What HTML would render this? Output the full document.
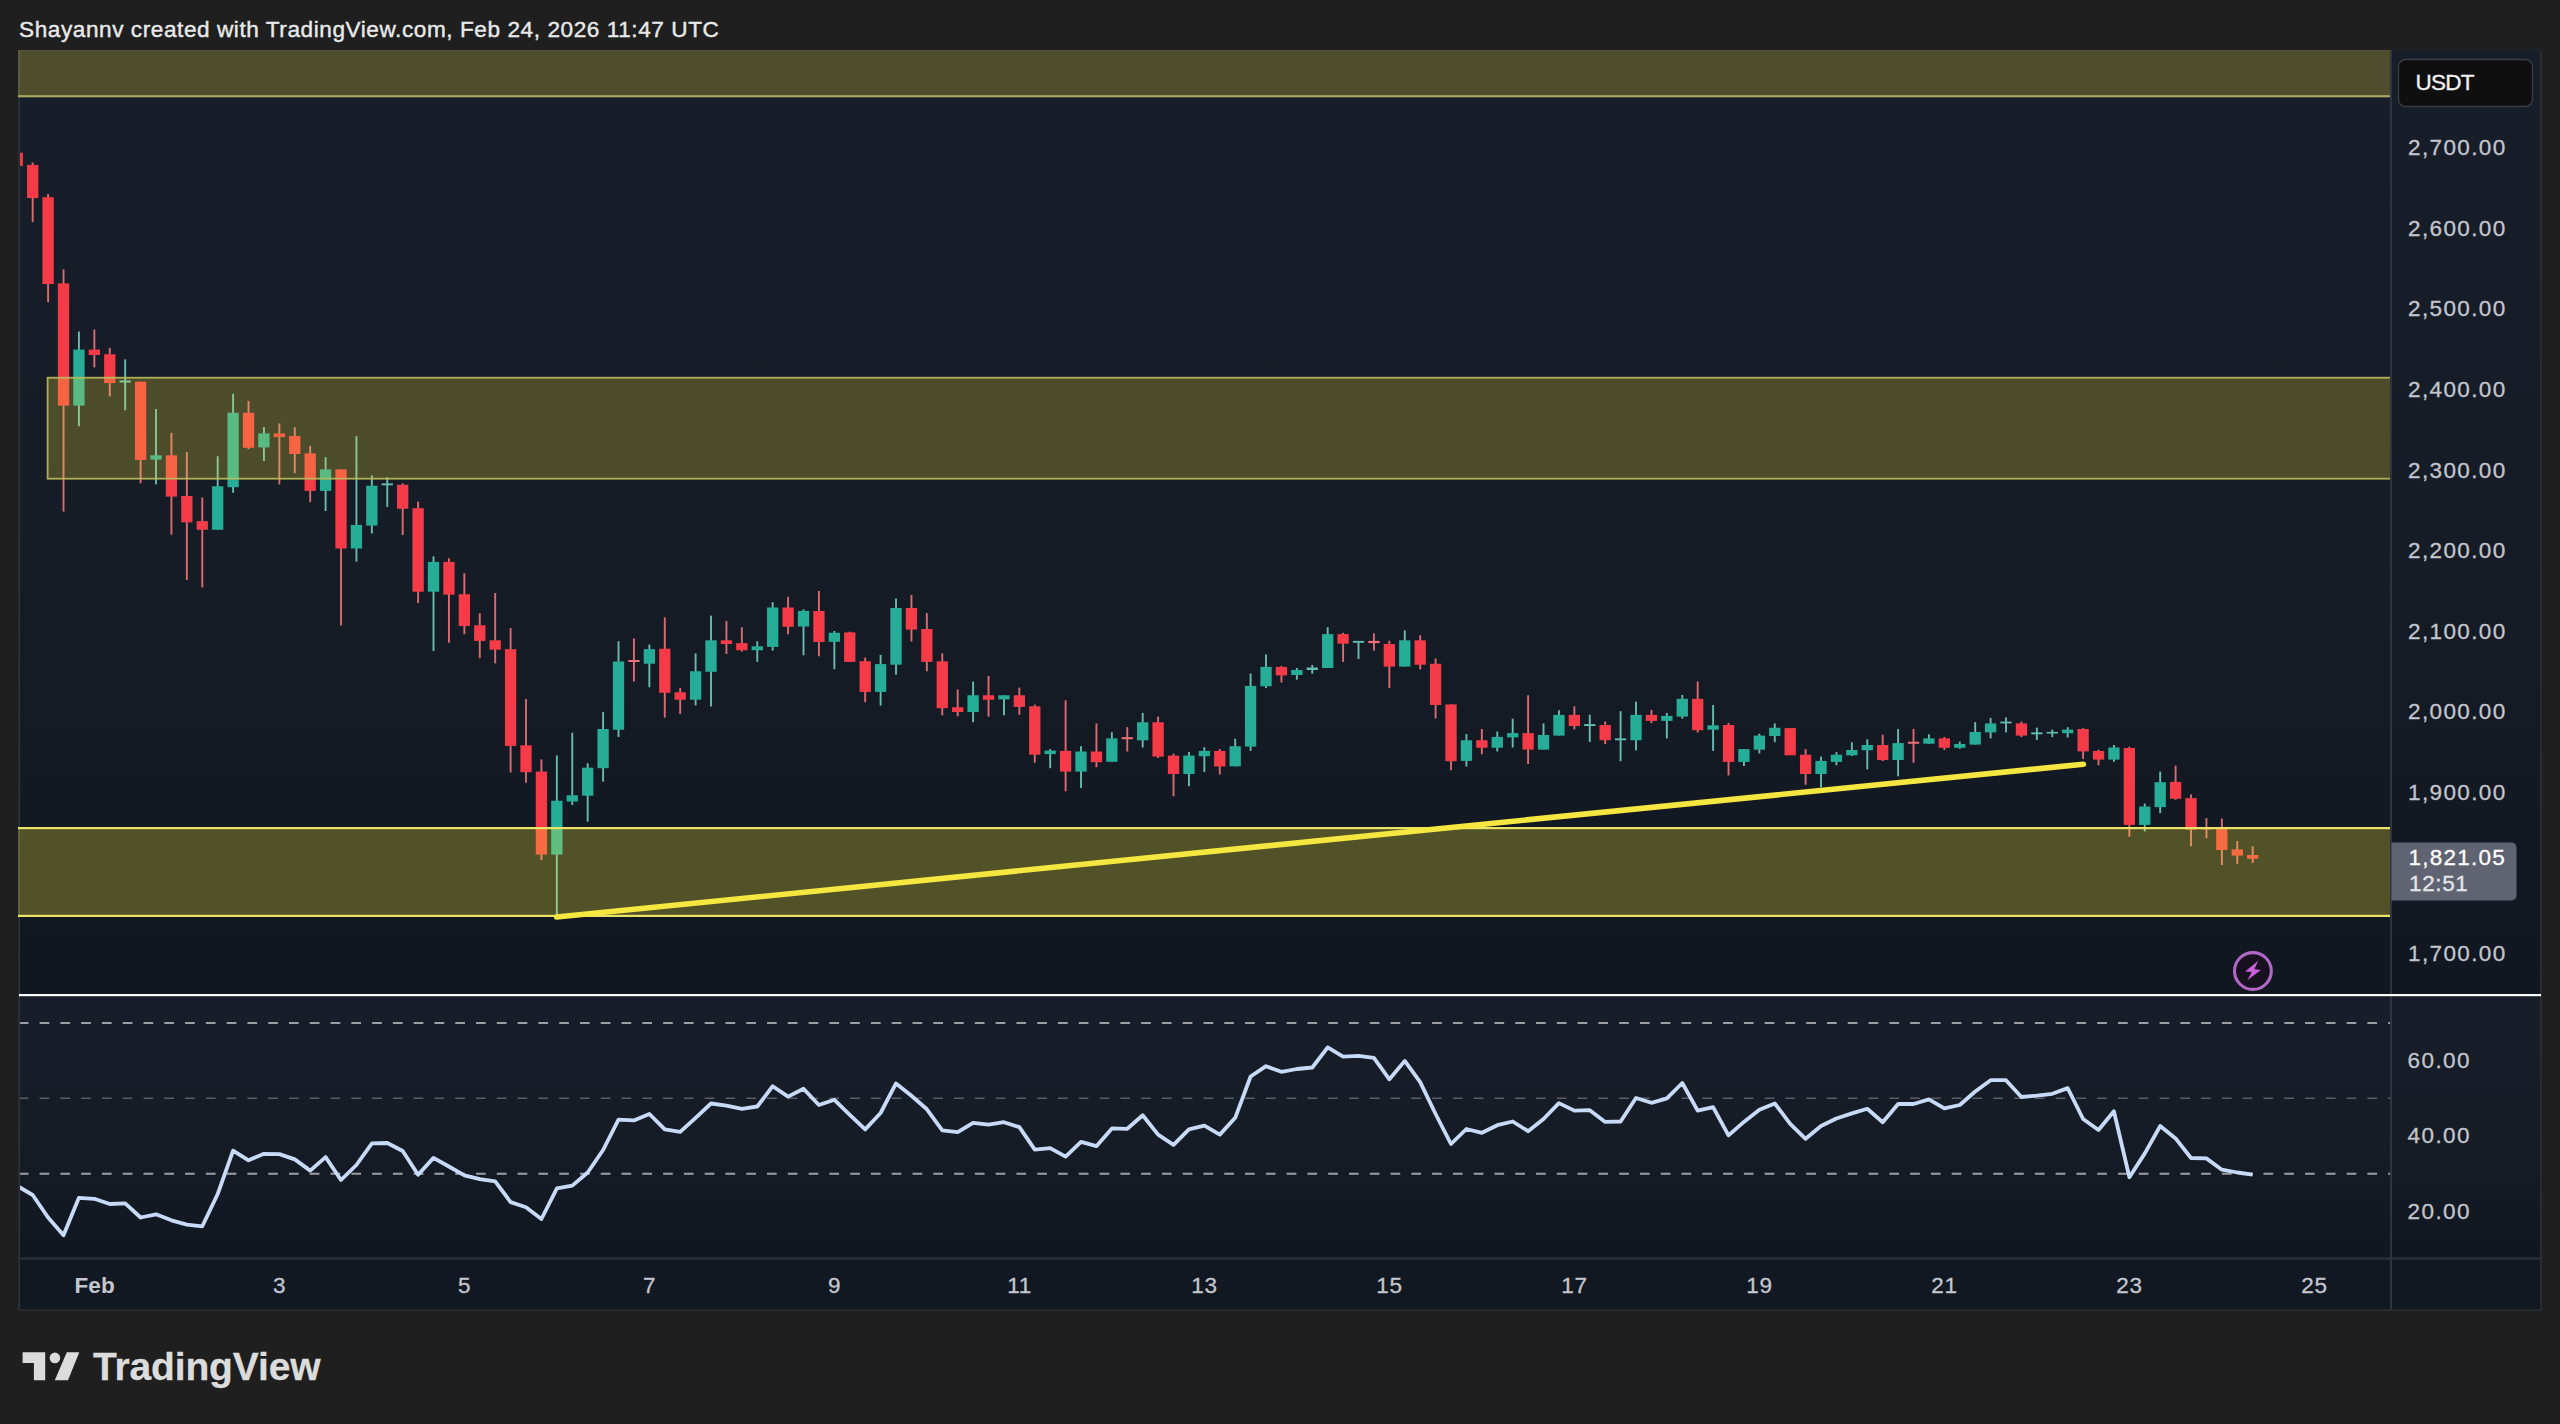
<!DOCTYPE html>
<html><head><meta charset="utf-8"><title>ETHUSDT chart</title>
<style>
html,body{margin:0;padding:0;background:#1f1f1f;}
body{width:2560px;height:1424px;position:relative;overflow:hidden;font-family:"Liberation Sans",sans-serif;}
svg{position:absolute;left:0;top:0;}
.t{position:absolute;white-space:nowrap;font-size:22.5px;line-height:22px;color:#c3c6ce;-webkit-text-stroke:0.3px currentColor;}
.hdr{left:19px;top:18.9px;font-size:22.6px;color:#e9e9e9;letter-spacing:0.563px;-webkit-text-stroke:0.4px currentColor;}
.pl{left:2408px;letter-spacing:1.373px;}
.tl{letter-spacing:0.764px;transform:translateX(-50%);top:1275px;}
.logo{left:93px;top:1346.5px;font-size:39px;line-height:39px;font-weight:bold;color:#dcdcdc;letter-spacing:-0.15px;}
</style></head><body>
<svg width="2560" height="1424" viewBox="0 0 2560 1424">
<defs>
<linearGradient id="bg" x1="0" y1="0" x2="0" y2="1"><stop offset="0" stop-color="#181e29"/><stop offset="0.55" stop-color="#161c26"/><stop offset="1" stop-color="#111720"/></linearGradient>
<clipPath id="cp"><rect x="19.5" y="50" width="2371.5" height="944"/></clipPath>
<clipPath id="cr"><rect x="19.5" y="996" width="2372" height="262"/></clipPath>
</defs>
<rect x="18.4" y="50" width="2523" height="945" fill="url(#bg)"/>
<rect x="18.4" y="995" width="2523" height="264" fill="url(#bg)"/>
<rect x="18.4" y="1258" width="2523" height="52.5" fill="#121821"/>

<g clip-path="url(#cp)">
<rect x="11.62" y="152.75" width="11.3" height="13.15" fill="#f53b47"/>
<rect x="31.73" y="162.50" width="1.9" height="59.60" fill="#dd6a70"/>
<rect x="27.03" y="164.90" width="11.3" height="33.20" fill="#f53b47"/>
<rect x="47.15" y="194.00" width="1.9" height="108.20" fill="#dd6a70"/>
<rect x="42.45" y="197.20" width="11.3" height="86.80" fill="#f53b47"/>
<rect x="62.57" y="269.40" width="1.9" height="242.20" fill="#dd6a70"/>
<rect x="57.87" y="283.40" width="11.3" height="122.20" fill="#f53b47"/>
<rect x="77.98" y="331.60" width="1.9" height="94.70" fill="#68bbae"/>
<rect x="73.28" y="349.60" width="11.3" height="56.00" fill="#26ad97"/>
<rect x="93.40" y="329.40" width="1.9" height="38.00" fill="#dd6a70"/>
<rect x="88.70" y="349.60" width="11.3" height="5.40" fill="#f53b47"/>
<rect x="108.82" y="347.80" width="1.9" height="48.60" fill="#dd6a70"/>
<rect x="104.12" y="354.30" width="11.3" height="28.80" fill="#f53b47"/>
<rect x="124.23" y="359.40" width="1.9" height="50.90" fill="#68bbae"/>
<rect x="119.53" y="380.50" width="11.3" height="2.00" fill="#62bfb1"/>
<rect x="139.65" y="381.70" width="1.9" height="101.70" fill="#dd6a70"/>
<rect x="134.95" y="381.70" width="11.3" height="78.30" fill="#f53b47"/>
<rect x="155.07" y="409.00" width="1.9" height="75.40" fill="#68bbae"/>
<rect x="150.37" y="455.30" width="11.3" height="4.30" fill="#26ad97"/>
<rect x="170.48" y="432.80" width="1.9" height="101.80" fill="#dd6a70"/>
<rect x="165.78" y="455.30" width="11.3" height="41.30" fill="#f53b47"/>
<rect x="185.90" y="452.10" width="1.9" height="127.90" fill="#dd6a70"/>
<rect x="181.20" y="496.00" width="11.3" height="26.30" fill="#f53b47"/>
<rect x="201.32" y="497.50" width="1.9" height="90.00" fill="#dd6a70"/>
<rect x="196.62" y="521.10" width="11.3" height="8.65" fill="#f53b47"/>
<rect x="216.73" y="456.25" width="1.9" height="73.50" fill="#68bbae"/>
<rect x="212.03" y="486.25" width="11.3" height="43.50" fill="#26ad97"/>
<rect x="232.15" y="393.80" width="1.9" height="99.00" fill="#68bbae"/>
<rect x="227.45" y="412.75" width="11.3" height="74.45" fill="#26ad97"/>
<rect x="247.57" y="400.90" width="1.9" height="48.20" fill="#dd6a70"/>
<rect x="242.87" y="412.75" width="11.3" height="35.05" fill="#f53b47"/>
<rect x="262.98" y="427.20" width="1.9" height="33.70" fill="#68bbae"/>
<rect x="258.28" y="433.40" width="11.3" height="14.00" fill="#26ad97"/>
<rect x="278.40" y="423.40" width="1.9" height="61.00" fill="#dd6a70"/>
<rect x="273.70" y="433.40" width="11.3" height="3.70" fill="#f53b47"/>
<rect x="293.82" y="427.20" width="1.9" height="45.90" fill="#dd6a70"/>
<rect x="289.12" y="436.00" width="11.3" height="18.00" fill="#f53b47"/>
<rect x="309.23" y="445.90" width="1.9" height="56.30" fill="#dd6a70"/>
<rect x="304.53" y="453.40" width="11.3" height="37.50" fill="#f53b47"/>
<rect x="324.65" y="457.20" width="1.9" height="53.80" fill="#68bbae"/>
<rect x="319.95" y="469.40" width="11.3" height="21.50" fill="#26ad97"/>
<rect x="340.07" y="469.40" width="1.9" height="156.00" fill="#dd6a70"/>
<rect x="335.37" y="469.40" width="11.3" height="79.10" fill="#f53b47"/>
<rect x="355.48" y="436.20" width="1.9" height="125.40" fill="#68bbae"/>
<rect x="350.78" y="524.90" width="11.3" height="23.60" fill="#26ad97"/>
<rect x="370.90" y="475.40" width="1.9" height="58.10" fill="#68bbae"/>
<rect x="366.20" y="485.70" width="11.3" height="39.90" fill="#26ad97"/>
<rect x="386.32" y="477.25" width="1.9" height="29.65" fill="#68bbae"/>
<rect x="381.62" y="483.40" width="11.3" height="1.90" fill="#62bfb1"/>
<rect x="401.73" y="483.40" width="1.9" height="51.60" fill="#dd6a70"/>
<rect x="397.03" y="484.75" width="11.3" height="24.00" fill="#f53b47"/>
<rect x="417.15" y="501.60" width="1.9" height="101.40" fill="#dd6a70"/>
<rect x="412.45" y="508.20" width="11.3" height="83.50" fill="#f53b47"/>
<rect x="432.57" y="556.30" width="1.9" height="94.70" fill="#68bbae"/>
<rect x="427.87" y="561.90" width="11.3" height="29.80" fill="#26ad97"/>
<rect x="447.98" y="558.30" width="1.9" height="84.45" fill="#dd6a70"/>
<rect x="443.28" y="561.90" width="11.3" height="32.70" fill="#f53b47"/>
<rect x="463.40" y="573.20" width="1.9" height="61.00" fill="#dd6a70"/>
<rect x="458.70" y="594.20" width="11.3" height="31.80" fill="#f53b47"/>
<rect x="478.82" y="613.10" width="1.9" height="45.00" fill="#dd6a70"/>
<rect x="474.12" y="625.30" width="11.3" height="15.60" fill="#f53b47"/>
<rect x="494.23" y="593.00" width="1.9" height="70.40" fill="#dd6a70"/>
<rect x="489.53" y="640.30" width="11.3" height="9.40" fill="#f53b47"/>
<rect x="509.65" y="628.10" width="1.9" height="144.30" fill="#dd6a70"/>
<rect x="504.95" y="649.10" width="11.3" height="96.80" fill="#f53b47"/>
<rect x="525.07" y="699.00" width="1.9" height="83.70" fill="#dd6a70"/>
<rect x="520.37" y="745.30" width="11.3" height="26.90" fill="#f53b47"/>
<rect x="540.48" y="759.40" width="1.9" height="100.80" fill="#dd6a70"/>
<rect x="535.78" y="771.60" width="11.3" height="83.00" fill="#f53b47"/>
<rect x="555.90" y="755.50" width="1.9" height="161.70" fill="#68bbae"/>
<rect x="551.20" y="800.75" width="11.3" height="53.85" fill="#26ad97"/>
<rect x="571.32" y="732.75" width="1.9" height="72.25" fill="#68bbae"/>
<rect x="566.62" y="795.30" width="11.3" height="6.20" fill="#26ad97"/>
<rect x="586.73" y="763.20" width="1.9" height="58.40" fill="#68bbae"/>
<rect x="582.03" y="767.70" width="11.3" height="28.00" fill="#26ad97"/>
<rect x="602.15" y="712.10" width="1.9" height="69.50" fill="#68bbae"/>
<rect x="597.45" y="729.00" width="11.3" height="39.20" fill="#26ad97"/>
<rect x="617.57" y="641.25" width="1.9" height="95.65" fill="#68bbae"/>
<rect x="612.87" y="661.50" width="11.3" height="68.25" fill="#26ad97"/>
<rect x="632.98" y="638.40" width="1.9" height="43.20" fill="#dd6a70"/>
<rect x="628.28" y="660.00" width="11.3" height="2.00" fill="#ee6f77"/>
<rect x="648.40" y="644.60" width="1.9" height="42.60" fill="#68bbae"/>
<rect x="643.70" y="649.10" width="11.3" height="14.65" fill="#26ad97"/>
<rect x="663.82" y="617.40" width="1.9" height="100.20" fill="#dd6a70"/>
<rect x="659.12" y="648.75" width="11.3" height="44.05" fill="#f53b47"/>
<rect x="679.23" y="688.10" width="1.9" height="25.90" fill="#dd6a70"/>
<rect x="674.53" y="692.25" width="11.3" height="7.50" fill="#f53b47"/>
<rect x="694.65" y="653.40" width="1.9" height="52.00" fill="#68bbae"/>
<rect x="689.95" y="671.25" width="11.3" height="28.50" fill="#26ad97"/>
<rect x="710.07" y="615.60" width="1.9" height="90.90" fill="#68bbae"/>
<rect x="705.37" y="640.30" width="11.3" height="31.50" fill="#26ad97"/>
<rect x="725.48" y="621.00" width="1.9" height="33.00" fill="#dd6a70"/>
<rect x="720.78" y="640.30" width="11.3" height="3.70" fill="#f53b47"/>
<rect x="740.90" y="627.20" width="1.9" height="24.40" fill="#dd6a70"/>
<rect x="736.20" y="643.10" width="11.3" height="7.15" fill="#f53b47"/>
<rect x="756.32" y="641.25" width="1.9" height="20.65" fill="#68bbae"/>
<rect x="751.62" y="646.30" width="11.3" height="3.95" fill="#26ad97"/>
<rect x="771.73" y="602.25" width="1.9" height="48.35" fill="#68bbae"/>
<rect x="767.03" y="607.50" width="11.3" height="39.40" fill="#26ad97"/>
<rect x="787.15" y="596.80" width="1.9" height="37.50" fill="#dd6a70"/>
<rect x="782.45" y="607.50" width="11.3" height="19.30" fill="#f53b47"/>
<rect x="802.57" y="609.40" width="1.9" height="45.90" fill="#68bbae"/>
<rect x="797.87" y="610.90" width="11.3" height="15.60" fill="#26ad97"/>
<rect x="817.98" y="591.00" width="1.9" height="65.25" fill="#dd6a70"/>
<rect x="813.28" y="611.00" width="11.3" height="31.00" fill="#f53b47"/>
<rect x="833.40" y="631.00" width="1.9" height="38.20" fill="#68bbae"/>
<rect x="828.70" y="632.80" width="11.3" height="9.00" fill="#26ad97"/>
<rect x="848.82" y="631.70" width="1.9" height="30.20" fill="#dd6a70"/>
<rect x="844.12" y="632.40" width="11.3" height="29.50" fill="#f53b47"/>
<rect x="864.24" y="657.60" width="1.9" height="44.60" fill="#dd6a70"/>
<rect x="859.54" y="661.20" width="11.3" height="30.70" fill="#f53b47"/>
<rect x="879.65" y="654.90" width="1.9" height="50.70" fill="#68bbae"/>
<rect x="874.95" y="664.10" width="11.3" height="27.80" fill="#26ad97"/>
<rect x="895.07" y="598.50" width="1.9" height="76.10" fill="#68bbae"/>
<rect x="890.37" y="608.00" width="11.3" height="56.70" fill="#26ad97"/>
<rect x="910.49" y="594.90" width="1.9" height="46.70" fill="#dd6a70"/>
<rect x="905.79" y="608.00" width="11.3" height="21.60" fill="#f53b47"/>
<rect x="925.90" y="613.10" width="1.9" height="58.15" fill="#dd6a70"/>
<rect x="921.20" y="629.00" width="11.3" height="32.90" fill="#f53b47"/>
<rect x="941.32" y="653.40" width="1.9" height="61.90" fill="#dd6a70"/>
<rect x="936.62" y="661.30" width="11.3" height="46.90" fill="#f53b47"/>
<rect x="956.74" y="689.40" width="1.9" height="26.85" fill="#dd6a70"/>
<rect x="952.04" y="707.25" width="11.3" height="4.75" fill="#f53b47"/>
<rect x="972.15" y="681.60" width="1.9" height="40.65" fill="#68bbae"/>
<rect x="967.45" y="695.25" width="11.3" height="16.75" fill="#26ad97"/>
<rect x="987.57" y="675.90" width="1.9" height="40.70" fill="#dd6a70"/>
<rect x="982.87" y="695.25" width="11.3" height="4.50" fill="#f53b47"/>
<rect x="1002.99" y="695.25" width="1.9" height="20.05" fill="#68bbae"/>
<rect x="998.29" y="695.25" width="11.3" height="4.15" fill="#26ad97"/>
<rect x="1018.40" y="687.60" width="1.9" height="27.15" fill="#dd6a70"/>
<rect x="1013.70" y="695.25" width="11.3" height="11.65" fill="#f53b47"/>
<rect x="1033.82" y="704.60" width="1.9" height="58.15" fill="#dd6a70"/>
<rect x="1029.12" y="706.30" width="11.3" height="48.40" fill="#f53b47"/>
<rect x="1049.24" y="749.00" width="1.9" height="19.20" fill="#68bbae"/>
<rect x="1044.54" y="750.60" width="11.3" height="3.50" fill="#26ad97"/>
<rect x="1064.65" y="700.30" width="1.9" height="90.95" fill="#dd6a70"/>
<rect x="1059.95" y="750.90" width="11.3" height="20.70" fill="#f53b47"/>
<rect x="1080.07" y="746.25" width="1.9" height="41.65" fill="#68bbae"/>
<rect x="1075.37" y="751.50" width="11.3" height="20.10" fill="#26ad97"/>
<rect x="1095.49" y="723.40" width="1.9" height="43.85" fill="#dd6a70"/>
<rect x="1090.79" y="751.50" width="11.3" height="10.70" fill="#f53b47"/>
<rect x="1110.90" y="732.20" width="1.9" height="29.60" fill="#68bbae"/>
<rect x="1106.20" y="738.40" width="11.3" height="23.40" fill="#26ad97"/>
<rect x="1126.32" y="727.10" width="1.9" height="24.40" fill="#dd6a70"/>
<rect x="1121.62" y="737.20" width="11.3" height="2.00" fill="#ee6f77"/>
<rect x="1141.74" y="712.90" width="1.9" height="34.70" fill="#68bbae"/>
<rect x="1137.04" y="722.25" width="11.3" height="18.00" fill="#26ad97"/>
<rect x="1157.15" y="716.60" width="1.9" height="41.40" fill="#dd6a70"/>
<rect x="1152.45" y="722.25" width="11.3" height="34.35" fill="#f53b47"/>
<rect x="1172.57" y="753.75" width="1.9" height="42.55" fill="#dd6a70"/>
<rect x="1167.87" y="755.60" width="11.3" height="18.40" fill="#f53b47"/>
<rect x="1187.99" y="751.90" width="1.9" height="34.30" fill="#68bbae"/>
<rect x="1183.29" y="755.60" width="11.3" height="18.40" fill="#26ad97"/>
<rect x="1203.40" y="747.20" width="1.9" height="24.90" fill="#68bbae"/>
<rect x="1198.70" y="750.90" width="11.3" height="5.30" fill="#26ad97"/>
<rect x="1218.82" y="749.00" width="1.9" height="25.40" fill="#dd6a70"/>
<rect x="1214.12" y="750.90" width="11.3" height="15.60" fill="#f53b47"/>
<rect x="1234.24" y="738.75" width="1.9" height="27.55" fill="#68bbae"/>
<rect x="1229.54" y="746.25" width="11.3" height="20.05" fill="#26ad97"/>
<rect x="1249.65" y="673.50" width="1.9" height="77.40" fill="#68bbae"/>
<rect x="1244.95" y="685.90" width="11.3" height="60.70" fill="#26ad97"/>
<rect x="1265.07" y="654.40" width="1.9" height="33.70" fill="#68bbae"/>
<rect x="1260.37" y="666.90" width="11.3" height="19.35" fill="#26ad97"/>
<rect x="1280.49" y="666.00" width="1.9" height="16.50" fill="#dd6a70"/>
<rect x="1275.79" y="666.90" width="11.3" height="8.50" fill="#f53b47"/>
<rect x="1295.90" y="667.90" width="1.9" height="11.80" fill="#68bbae"/>
<rect x="1291.20" y="670.00" width="11.3" height="5.00" fill="#26ad97"/>
<rect x="1311.32" y="665.00" width="1.9" height="8.70" fill="#68bbae"/>
<rect x="1306.62" y="667.50" width="11.3" height="2.50" fill="#62bfb1"/>
<rect x="1326.74" y="627.20" width="1.9" height="40.80" fill="#68bbae"/>
<rect x="1322.04" y="634.10" width="11.3" height="33.90" fill="#26ad97"/>
<rect x="1342.15" y="632.80" width="1.9" height="29.10" fill="#dd6a70"/>
<rect x="1337.45" y="634.10" width="11.3" height="9.60" fill="#f53b47"/>
<rect x="1357.57" y="640.90" width="1.9" height="18.10" fill="#68bbae"/>
<rect x="1352.87" y="640.90" width="11.3" height="1.85" fill="#62bfb1"/>
<rect x="1372.99" y="633.40" width="1.9" height="17.20" fill="#dd6a70"/>
<rect x="1368.29" y="640.90" width="11.3" height="2.20" fill="#ee6f77"/>
<rect x="1388.40" y="640.70" width="1.9" height="47.40" fill="#dd6a70"/>
<rect x="1383.70" y="644.00" width="11.3" height="22.60" fill="#f53b47"/>
<rect x="1403.82" y="630.40" width="1.9" height="36.20" fill="#68bbae"/>
<rect x="1399.12" y="640.30" width="11.3" height="26.30" fill="#26ad97"/>
<rect x="1419.24" y="635.25" width="1.9" height="34.15" fill="#dd6a70"/>
<rect x="1414.54" y="640.30" width="11.3" height="24.40" fill="#f53b47"/>
<rect x="1434.65" y="658.50" width="1.9" height="60.00" fill="#dd6a70"/>
<rect x="1429.95" y="663.75" width="11.3" height="41.25" fill="#f53b47"/>
<rect x="1450.07" y="704.40" width="1.9" height="65.85" fill="#dd6a70"/>
<rect x="1445.37" y="704.40" width="11.3" height="56.85" fill="#f53b47"/>
<rect x="1465.49" y="734.10" width="1.9" height="32.40" fill="#68bbae"/>
<rect x="1460.79" y="740.25" width="11.3" height="20.65" fill="#26ad97"/>
<rect x="1480.90" y="729.00" width="1.9" height="25.30" fill="#dd6a70"/>
<rect x="1476.20" y="740.25" width="11.3" height="7.50" fill="#f53b47"/>
<rect x="1496.32" y="731.60" width="1.9" height="19.90" fill="#68bbae"/>
<rect x="1491.62" y="736.90" width="11.3" height="10.85" fill="#26ad97"/>
<rect x="1511.74" y="718.70" width="1.9" height="28.90" fill="#68bbae"/>
<rect x="1507.04" y="733.10" width="11.3" height="4.30" fill="#26ad97"/>
<rect x="1527.15" y="695.25" width="1.9" height="68.75" fill="#dd6a70"/>
<rect x="1522.45" y="733.10" width="11.3" height="16.50" fill="#f53b47"/>
<rect x="1542.57" y="723.40" width="1.9" height="26.20" fill="#68bbae"/>
<rect x="1537.87" y="735.00" width="11.3" height="14.60" fill="#26ad97"/>
<rect x="1557.99" y="710.25" width="1.9" height="25.35" fill="#68bbae"/>
<rect x="1553.29" y="714.90" width="11.3" height="20.70" fill="#26ad97"/>
<rect x="1573.40" y="706.30" width="1.9" height="23.10" fill="#dd6a70"/>
<rect x="1568.70" y="714.90" width="11.3" height="11.10" fill="#f53b47"/>
<rect x="1588.82" y="714.75" width="1.9" height="27.15" fill="#68bbae"/>
<rect x="1584.12" y="724.10" width="11.3" height="1.90" fill="#62bfb1"/>
<rect x="1604.24" y="721.50" width="1.9" height="22.50" fill="#dd6a70"/>
<rect x="1599.54" y="725.00" width="11.3" height="15.25" fill="#f53b47"/>
<rect x="1619.65" y="711.20" width="1.9" height="50.05" fill="#68bbae"/>
<rect x="1614.95" y="738.40" width="11.3" height="1.85" fill="#62bfb1"/>
<rect x="1635.07" y="701.60" width="1.9" height="48.80" fill="#68bbae"/>
<rect x="1630.37" y="714.90" width="11.3" height="25.35" fill="#26ad97"/>
<rect x="1650.49" y="710.00" width="1.9" height="13.20" fill="#dd6a70"/>
<rect x="1645.79" y="714.90" width="11.3" height="6.00" fill="#f53b47"/>
<rect x="1665.90" y="713.00" width="1.9" height="25.40" fill="#68bbae"/>
<rect x="1661.20" y="715.90" width="11.3" height="5.00" fill="#26ad97"/>
<rect x="1681.32" y="695.00" width="1.9" height="23.70" fill="#68bbae"/>
<rect x="1676.62" y="698.80" width="11.3" height="17.80" fill="#26ad97"/>
<rect x="1696.74" y="681.40" width="1.9" height="51.10" fill="#dd6a70"/>
<rect x="1692.04" y="698.80" width="11.3" height="31.40" fill="#f53b47"/>
<rect x="1712.15" y="705.00" width="1.9" height="45.80" fill="#68bbae"/>
<rect x="1707.45" y="725.30" width="11.3" height="4.40" fill="#26ad97"/>
<rect x="1727.57" y="722.90" width="1.9" height="52.50" fill="#dd6a70"/>
<rect x="1722.87" y="725.00" width="11.3" height="36.90" fill="#f53b47"/>
<rect x="1742.99" y="749.10" width="1.9" height="16.90" fill="#68bbae"/>
<rect x="1738.29" y="749.10" width="11.3" height="12.80" fill="#26ad97"/>
<rect x="1758.40" y="733.75" width="1.9" height="19.65" fill="#68bbae"/>
<rect x="1753.70" y="735.60" width="11.3" height="14.10" fill="#26ad97"/>
<rect x="1773.82" y="723.40" width="1.9" height="18.80" fill="#68bbae"/>
<rect x="1769.12" y="727.75" width="11.3" height="8.25" fill="#26ad97"/>
<rect x="1784.54" y="728.10" width="11.3" height="27.20" fill="#f53b47"/>
<rect x="1804.65" y="749.10" width="1.9" height="35.65" fill="#dd6a70"/>
<rect x="1799.95" y="754.75" width="11.3" height="19.25" fill="#f53b47"/>
<rect x="1820.07" y="756.60" width="1.9" height="30.60" fill="#68bbae"/>
<rect x="1815.37" y="760.90" width="11.3" height="13.10" fill="#26ad97"/>
<rect x="1835.49" y="752.10" width="1.9" height="13.15" fill="#68bbae"/>
<rect x="1830.79" y="754.75" width="11.3" height="7.15" fill="#26ad97"/>
<rect x="1850.90" y="742.20" width="1.9" height="13.70" fill="#68bbae"/>
<rect x="1846.20" y="750.00" width="11.3" height="5.30" fill="#26ad97"/>
<rect x="1866.32" y="739.40" width="1.9" height="30.00" fill="#68bbae"/>
<rect x="1861.62" y="745.00" width="11.3" height="5.25" fill="#26ad97"/>
<rect x="1881.74" y="734.70" width="1.9" height="26.30" fill="#dd6a70"/>
<rect x="1877.04" y="745.00" width="11.3" height="15.00" fill="#f53b47"/>
<rect x="1897.15" y="729.00" width="1.9" height="47.30" fill="#68bbae"/>
<rect x="1892.45" y="743.10" width="11.3" height="16.90" fill="#26ad97"/>
<rect x="1912.57" y="729.00" width="1.9" height="33.80" fill="#dd6a70"/>
<rect x="1907.87" y="741.75" width="11.3" height="2.00" fill="#ee6f77"/>
<rect x="1927.99" y="734.30" width="1.9" height="9.40" fill="#68bbae"/>
<rect x="1923.29" y="738.40" width="11.3" height="5.30" fill="#26ad97"/>
<rect x="1943.40" y="737.10" width="1.9" height="12.90" fill="#dd6a70"/>
<rect x="1938.70" y="738.40" width="11.3" height="9.40" fill="#f53b47"/>
<rect x="1958.82" y="741.60" width="1.9" height="7.15" fill="#68bbae"/>
<rect x="1954.12" y="744.00" width="11.3" height="3.80" fill="#26ad97"/>
<rect x="1974.24" y="722.10" width="1.9" height="22.50" fill="#68bbae"/>
<rect x="1969.54" y="731.90" width="11.3" height="12.70" fill="#26ad97"/>
<rect x="1989.65" y="717.80" width="1.9" height="20.60" fill="#68bbae"/>
<rect x="1984.95" y="723.40" width="11.3" height="9.00" fill="#26ad97"/>
<rect x="2005.07" y="717.40" width="1.9" height="15.00" fill="#68bbae"/>
<rect x="2000.37" y="721.60" width="11.3" height="1.80" fill="#62bfb1"/>
<rect x="2020.49" y="721.60" width="1.9" height="15.50" fill="#dd6a70"/>
<rect x="2015.79" y="723.40" width="11.3" height="12.20" fill="#f53b47"/>
<rect x="2035.90" y="727.60" width="1.9" height="12.40" fill="#68bbae"/>
<rect x="2031.20" y="732.40" width="11.3" height="1.90" fill="#62bfb1"/>
<rect x="2051.32" y="729.60" width="1.9" height="7.50" fill="#68bbae"/>
<rect x="2046.62" y="731.90" width="11.3" height="1.60" fill="#62bfb1"/>
<rect x="2066.74" y="727.20" width="1.9" height="10.30" fill="#68bbae"/>
<rect x="2062.04" y="729.60" width="11.3" height="3.60" fill="#26ad97"/>
<rect x="2082.15" y="728.10" width="1.9" height="30.80" fill="#dd6a70"/>
<rect x="2077.45" y="729.00" width="11.3" height="22.40" fill="#f53b47"/>
<rect x="2097.57" y="749.80" width="1.9" height="15.60" fill="#dd6a70"/>
<rect x="2092.87" y="751.00" width="11.3" height="8.60" fill="#f53b47"/>
<rect x="2112.99" y="745.00" width="1.9" height="16.70" fill="#68bbae"/>
<rect x="2108.29" y="747.50" width="11.3" height="12.10" fill="#26ad97"/>
<rect x="2128.40" y="746.70" width="1.9" height="90.00" fill="#dd6a70"/>
<rect x="2123.70" y="748.00" width="11.3" height="76.90" fill="#f53b47"/>
<rect x="2143.82" y="803.60" width="1.9" height="27.80" fill="#68bbae"/>
<rect x="2139.12" y="806.50" width="11.3" height="18.40" fill="#26ad97"/>
<rect x="2159.24" y="771.60" width="1.9" height="41.50" fill="#68bbae"/>
<rect x="2154.54" y="782.20" width="11.3" height="24.90" fill="#26ad97"/>
<rect x="2174.65" y="765.60" width="1.9" height="34.15" fill="#dd6a70"/>
<rect x="2169.95" y="781.90" width="11.3" height="16.85" fill="#f53b47"/>
<rect x="2190.07" y="794.40" width="1.9" height="51.85" fill="#dd6a70"/>
<rect x="2185.37" y="798.10" width="11.3" height="31.65" fill="#f53b47"/>
<rect x="2205.49" y="818.10" width="1.9" height="20.00" fill="#dd6a70"/>
<rect x="2200.79" y="827.70" width="11.3" height="1.70" fill="#ee6f77"/>
<rect x="2220.90" y="818.50" width="1.9" height="46.50" fill="#dd6a70"/>
<rect x="2216.20" y="827.50" width="11.3" height="22.50" fill="#f53b47"/>
<rect x="2236.32" y="841.00" width="1.9" height="22.75" fill="#dd6a70"/>
<rect x="2231.62" y="849.40" width="11.3" height="6.20" fill="#f53b47"/>
<rect x="2251.74" y="846.25" width="1.9" height="16.65" fill="#dd6a70"/>
<rect x="2247.04" y="855.00" width="11.3" height="3.75" fill="#f53b47"/>
</g>
<line x1="18.8" y1="1022.9" x2="2391" y2="1022.9" stroke="#9d9ea4" stroke-width="2" stroke-dasharray="9.7 11.084"/>
<line x1="18.8" y1="1098.2" x2="2391" y2="1098.2" stroke="#5a5d67" stroke-width="1.6" stroke-dasharray="9.7 11.084"/>
<line x1="18.8" y1="1173.7" x2="2391" y2="1173.7" stroke="#9d9ea4" stroke-width="2" stroke-dasharray="9.7 11.084"/>
<polyline clip-path="url(#cr)" points="17.3,1186.0 32.7,1195.0 48.1,1217.5 63.5,1235.3 78.9,1197.8 94.3,1198.8 109.8,1204.0 125.2,1203.4 140.6,1217.5 156.0,1214.3 171.4,1220.3 186.9,1224.6 202.3,1226.3 217.7,1194.0 233.1,1150.6 248.5,1160.3 263.9,1153.8 279.4,1154.1 294.8,1159.4 310.2,1170.6 325.6,1157.1 341.0,1180.0 356.4,1165.0 371.9,1143.4 387.3,1143.0 402.7,1151.0 418.1,1174.8 433.5,1157.9 448.9,1166.5 464.4,1175.3 479.8,1179.2 495.2,1181.3 510.6,1202.1 526.0,1207.2 541.4,1219.0 556.9,1188.4 572.3,1185.6 587.7,1172.5 603.1,1150.0 618.5,1119.6 633.9,1120.4 649.4,1114.0 664.8,1129.4 680.2,1131.8 695.6,1117.8 711.0,1103.5 726.4,1105.6 741.9,1108.8 757.3,1106.5 772.7,1086.2 788.1,1096.6 803.5,1088.7 818.9,1105.0 834.4,1099.8 849.8,1114.8 865.2,1129.4 880.6,1113.0 896.0,1083.4 911.4,1095.8 926.9,1109.3 942.3,1130.3 957.7,1132.2 973.1,1122.8 988.5,1124.7 1003.9,1122.2 1019.4,1127.1 1034.8,1149.6 1050.2,1148.1 1065.6,1156.6 1081.0,1141.9 1096.4,1146.2 1111.9,1128.4 1127.3,1128.8 1142.7,1115.3 1158.1,1134.6 1173.5,1144.8 1188.9,1129.4 1204.4,1125.6 1219.8,1134.6 1235.2,1117.8 1250.6,1076.5 1266.0,1066.2 1281.4,1071.8 1296.9,1069.0 1312.3,1067.5 1327.7,1047.4 1343.1,1056.6 1358.5,1055.9 1373.9,1057.8 1389.4,1079.3 1404.8,1060.9 1420.2,1082.1 1435.6,1114.0 1451.0,1144.0 1466.4,1129.0 1481.9,1132.8 1497.3,1125.2 1512.7,1121.5 1528.1,1131.2 1543.5,1119.0 1558.9,1103.1 1574.4,1110.6 1589.8,1110.2 1605.2,1121.9 1620.6,1121.5 1636.0,1098.0 1651.4,1102.8 1666.9,1098.4 1682.3,1083.0 1697.7,1110.6 1713.1,1107.2 1728.5,1135.4 1743.9,1121.9 1759.4,1109.7 1774.8,1103.5 1790.2,1123.8 1805.6,1138.8 1821.0,1126.0 1836.4,1118.5 1851.9,1113.4 1867.3,1108.8 1882.7,1122.2 1898.1,1104.0 1913.5,1104.0 1928.9,1099.4 1944.4,1108.4 1959.8,1105.0 1975.2,1091.5 1990.6,1080.2 2006.0,1080.2 2021.4,1097.0 2036.9,1095.6 2052.3,1093.8 2067.7,1088.1 2083.1,1119.0 2098.5,1130.0 2113.9,1111.2 2129.4,1177.2 2144.8,1153.4 2160.2,1126.0 2175.6,1138.4 2191.0,1158.0 2206.4,1158.4 2221.9,1169.7 2237.3,1172.5 2252.7,1174.7" fill="none" stroke="#c7daf7" stroke-width="3.8" stroke-linejoin="round" stroke-linecap="butt"/>
<rect x="18.4" y="50" width="1.7" height="1260.5" fill="#2c323e"/>
<rect x="2539.9" y="50" width="1.9" height="1261" fill="#2b2d33"/>
<rect x="18.4" y="1309.2" width="2523.4" height="2" fill="#2a2b2e"/>
<rect x="18.4" y="49.6" width="2523.4" height="1" fill="#23262d"/>
<rect x="18" y="50" width="2373" height="46" fill="#ffeb3b" fill-opacity="0.235"/>
<rect x="18" y="95.2" width="2373" height="2.1" fill="#b3b264" fill-opacity="0.95"/>
<g clip-path="url(#cp)"><rect x="47.6" y="377.7" width="2400" height="101" fill="#ffeb3b" fill-opacity="0.235" stroke="#bdbc5c" stroke-opacity="0.9" stroke-width="1.8"/></g>
<rect x="18" y="828" width="2373" height="88" fill="#ffeb3b" fill-opacity="0.27"/>
<rect x="18" y="827" width="2373" height="2.2" fill="#ebe365"/>
<rect x="18" y="914.8" width="2373" height="2.2" fill="#ebe365"/>
<line x1="556.6" y1="917" x2="2083.4" y2="764.2" stroke="#f5e73f" stroke-width="5.6" stroke-linecap="round"/>
<rect x="2390" y="50" width="2" height="1260" fill="#2f3540"/>
<rect x="18.4" y="1257.5" width="2522" height="2.2" fill="#2c323d"/>
<rect x="19" y="994" width="2522" height="2.2" fill="#ffffff"/>
<rect x="2398.5" y="59.5" width="134" height="47" rx="7" fill="#0f0f0f" stroke="#3a3e4a" stroke-width="1.3"/>
<path d="M2391.5 842.5 H2511.5 a5 5 0 0 1 5 5 V895.5 a5 5 0 0 1 -5 5 H2391.5 Z" fill="#606472"/>
<circle cx="2252.9" cy="971" r="18.4" fill="#17101f" stroke="#b167c5" stroke-width="3.1"/>
<polygon points="2258.2,960.8 2245.1,971.5 2251.8,972.1 2247.3,980.2 2260.9,969.9 2254.4,969.3" fill="#c861da"/>
<g fill="#dcdcdc"><path d="M22.6 1352.2 H45.2 V1380.3 H33.9 V1362.9 H22.6 Z"/><circle cx="54.9" cy="1357.9" r="5.3"/><path d="M66.8 1352.2 H79.3 L68 1380.3 H54.8 Z"/></g>
</svg>
<div class="t hdr">Shayannv created with TradingView.com, Feb 24, 2026 11:47 UTC</div>
<div class="t pl" style="top:137.3px">2,700.00</div>
<div class="t pl" style="top:217.9px">2,600.00</div>
<div class="t pl" style="top:298.4px">2,500.00</div>
<div class="t pl" style="top:379.0px">2,400.00</div>
<div class="t pl" style="top:459.5px">2,300.00</div>
<div class="t pl" style="top:540.1px">2,200.00</div>
<div class="t pl" style="top:620.6px">2,100.00</div>
<div class="t pl" style="top:701.1px">2,000.00</div>
<div class="t pl" style="top:781.7px">1,900.00</div>
<div class="t pl" style="top:942.8px">1,700.00</div>
<div class="t" style="left:2407.5px;letter-spacing:1.447px;top:1049.5px">60.00</div>
<div class="t" style="left:2407.5px;letter-spacing:1.447px;top:1125.0px">40.00</div>
<div class="t" style="left:2407.5px;letter-spacing:1.447px;top:1200.5px">20.00</div>
<div class="t" style="left:2415.5px;top:71.7px;color:#f2f2f2;letter-spacing:-0.784px">USDT</div>
<div class="t" style="left:2408.5px;top:846.7px;color:#ffffff;letter-spacing:1.231px">1,821.05</div>
<div class="t" style="left:2409px;top:873.3px;color:#e4e5ea;letter-spacing:0.622px">12:51</div>
<div class="t tl" style="left:94.6px;font-weight:bold;letter-spacing:0.143px;-webkit-text-stroke:0">Feb</div>
<div class="t tl" style="left:279.6px">3</div>
<div class="t tl" style="left:464.6px">5</div>
<div class="t tl" style="left:649.6px">7</div>
<div class="t tl" style="left:834.6px">9</div>
<div class="t tl" style="left:1019.6px">11</div>
<div class="t tl" style="left:1204.6px">13</div>
<div class="t tl" style="left:1389.6px">15</div>
<div class="t tl" style="left:1574.6px">17</div>
<div class="t tl" style="left:1759.6px">19</div>
<div class="t tl" style="left:1944.6px">21</div>
<div class="t tl" style="left:2129.6px">23</div>
<div class="t tl" style="left:2314.6px">25</div>
<div class="t logo">TradingView</div>
</body></html>
